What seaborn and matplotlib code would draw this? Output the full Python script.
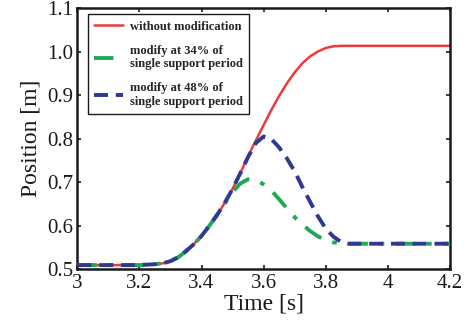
import numpy as np
import pandas as pd
import matplotlib
matplotlib.use("Agg")
import matplotlib.pyplot as plt
import seaborn as sns

# ---- data ----
t_red = [3.00, 3.20, 3.225, 3.25, 3.275, 3.30, 3.325, 3.35, 3.375, 3.40, 3.425, 3.45,
         3.475, 3.50, 3.525, 3.55, 3.575, 3.60, 3.625, 3.65, 3.675, 3.70, 3.725,
         3.75, 3.775, 3.80, 3.825, 3.85, 4.20]
y_red = [0.510, 0.510, 0.511, 0.512, 0.514, 0.519, 0.528, 0.542, 0.558, 0.577, 0.600, 0.625,
         0.653, 0.685, 0.721, 0.760, 0.796, 0.831, 0.866, 0.898, 0.927, 0.952, 0.973,
         0.989, 1.000, 1.008, 1.012, 1.013, 1.013]

t_green = [3.00, 3.20, 3.225, 3.25, 3.275, 3.30, 3.325, 3.35, 3.375, 3.40, 3.425, 3.45,
           3.475, 3.50, 3.525, 3.55, 3.575, 3.60, 3.625, 3.65, 3.675, 3.70, 3.725,
           3.75, 3.775, 3.80, 3.825, 3.85, 3.875, 4.20]
y_green = [0.510, 0.510, 0.511, 0.512, 0.514, 0.519, 0.528, 0.542, 0.558, 0.577, 0.600, 0.625,
           0.652, 0.678, 0.697, 0.707, 0.706, 0.695, 0.681, 0.661, 0.640, 0.620, 0.603,
           0.588, 0.576, 0.567, 0.562, 0.560, 0.559, 0.559]

t_blue = [3.00, 3.20, 3.225, 3.25, 3.275, 3.30, 3.325, 3.35, 3.375, 3.40, 3.425, 3.45,
          3.475, 3.50, 3.525, 3.55, 3.575, 3.60, 3.625, 3.65, 3.675, 3.70, 3.725,
          3.75, 3.775, 3.80, 3.825, 3.85, 3.875, 4.20]
y_blue = [0.510, 0.510, 0.511, 0.512, 0.514, 0.519, 0.528, 0.542, 0.558, 0.577, 0.600, 0.625,
          0.653, 0.685, 0.721, 0.758, 0.790, 0.805, 0.799, 0.780, 0.755, 0.725, 0.689,
          0.655, 0.622, 0.594, 0.575, 0.563, 0.559, 0.559]

labels = ["without modification",
          "modify at 34% of\nsingle support period",
          "modify at 48% of\nsingle support period"]
x_ticks = [3, 3.2, 3.4, 3.6, 3.8, 4, 4.2]
x_ticklabels = ["3", "3.2", "3.4", "3.6", "3.8", "4", "4.2"]
y_ticks = [0.5, 0.6, 0.7, 0.8, 0.9, 1.0, 1.1]
y_ticklabels = ["0.5", "0.6", "0.7", "0.8", "0.9", "1.0", "1.1"]

# ---- style ----
sns.set_style("ticks")
plt.rcParams['font.family'] = ['Liberation Serif', 'DejaVu Serif']

fig = plt.figure(figsize=(4.72, 3.31), dpi=100)
ax = fig.add_axes([0.164, 0.186, 0.789, 0.790])

c_red = "#EE3A3A"
c_green = "#1DAA55"
c_blue = "#2E3A92"

sns.lineplot(x=t_red, y=y_red, ax=ax, color=c_red, linewidth=1.8,
             label=labels[0], zorder=2)
sns.lineplot(x=t_green, y=y_green, ax=ax, color=c_green, linewidth=2.8,
             label=labels[1], zorder=3)
sns.lineplot(x=t_blue, y=y_blue, ax=ax, color=c_blue, linewidth=2.8,
             label=labels[2], zorder=4)
lines = ax.get_lines()
lines[1].set_dashes([5.0, 3.0, 1.2, 3.0])
lines[2].set_dashes([3.6, 2.0])

ax.set_xlim(3, 4.2)
ax.set_ylim(0.5, 1.1)
ax.set_xticks(x_ticks)
ax.set_xticklabels(x_ticklabels)
ax.set_yticks(y_ticks)
ax.set_yticklabels(y_ticklabels)
ax.tick_params(direction='in', top=True, right=True, length=3, width=1.2,
               labelsize=15, pad=3, colors='#1a1a1a')
for s in ax.spines.values():
    s.set_visible(True)
    s.set_linewidth(1.8)
    s.set_color('#1a1a1a')

ax.set_xlabel("Time [s]", fontsize=17, labelpad=1, color='#1a1a1a')
ax.set_ylabel("Position [m]", fontsize=17, labelpad=4, color='#1a1a1a')

handles = ax.get_lines()[:3]
leg = ax.legend(handles=handles, labels=labels, loc='upper left',
                bbox_to_anchor=(0.028, 0.975), frameon=True, fancybox=False,
                prop={'weight': 'bold', 'size': 9.0, 'family': 'Liberation Serif'},
                handlelength=2.35, handletextpad=0.55, borderpad=0.5,
                labelspacing=0.95, borderaxespad=0.0)
leg.get_frame().set_edgecolor('#1a1a1a')
leg.get_frame().set_linewidth(1.0)
leg.get_frame().set_alpha(1.0)

fig.savefig("out.png", dpi=100)
